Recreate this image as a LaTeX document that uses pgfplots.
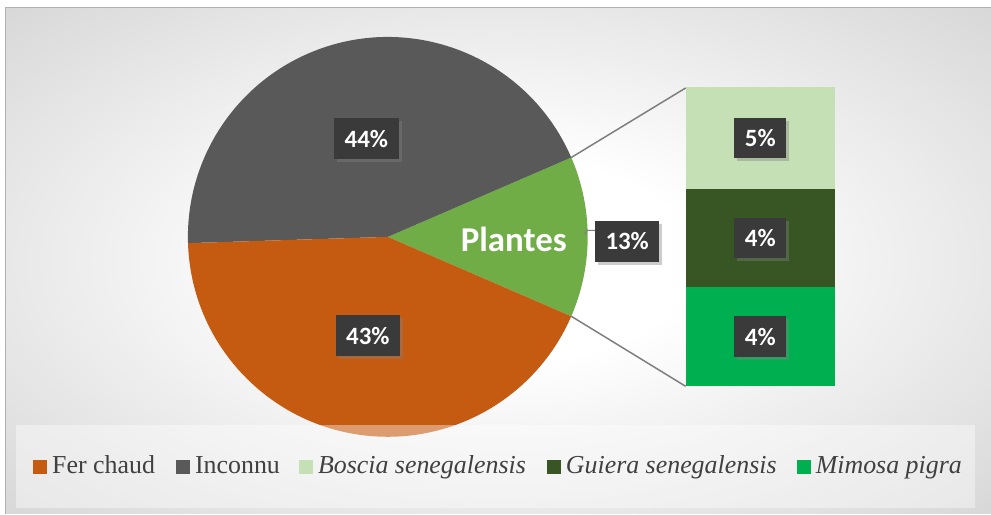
\documentclass[border=0pt]{standalone}
\usepackage{pgfplots}
\pgfplotsset{compat=1.18}
\usetikzlibrary{shadows}
\usepackage{fontspec}
\setmainfont{Liberation Serif}
\newfontfamily\carlito{Carlito}
\definecolor{ferc}{HTML}{C55A11}
\definecolor{inco}{HTML}{595959}
\definecolor{plantes}{HTML}{70AD47}
\definecolor{boscia}{HTML}{C5E0B4}
\definecolor{guiera}{HTML}{375623}
\definecolor{mimosa}{HTML}{00B050}
\definecolor{conn}{HTML}{7F7F7F}
\definecolor{labbg}{HTML}{3A3A3A}
\definecolor{legtext}{HTML}{404040}
\definecolor{bgout}{HTML}{B8B8B8}
\definecolor{bgline}{HTML}{B0B0B0}
\pgfdeclareradialshading{bgshade}{\pgfpoint{0bp}{0bp}}{color(0bp)=(white); color(10bp)=(white); color(56bp)=(bgout); color(100bp)=(bgout)}
\tikzset{
  lab/.style={fill=labbg, text=white, font=\carlito\bfseries\fontsize{25}{25}\selectfont,
    inner xsep=10.5bp, inner ysep=0pt, minimum height=41bp,
    drop shadow={shadow xshift=3bp, shadow yshift=-3bp, opacity=0.4}},
  leg/.style={anchor=base west, inner sep=0pt, text=legtext, font=\fontsize{26}{26}\selectfont}
}
\pgfplotsset{barbox/.style={at={(686bp,127.5bp)}, anchor=south west, scale only axis,
  width=149.5bp, height=299bp, xmin=-0.5, xmax=0.5, ymin=0, ymax=13.3, hide axis, clip=false}}
\begin{document}
\begin{tikzpicture}
% pie values (percent)
\def\pFer{43}
\def\pInc{44}
\def\pPla{13}
\pgfmathsetmacro\aA{\pPla*1.8}
\pgfmathsetmacro\aB{\aA+\pInc*3.6}
\pgfmathsetmacro\aC{\aB+\pFer*3.6}
\begin{axis}[name=main, at={(0,0)}, anchor=south west, scale only axis,
  width=991bp, height=514bp, xmin=0, xmax=991, ymin=0, ymax=514,
  y dir=reverse, hide axis, clip=false]
\addplot[draw=none] coordinates {(0,0) (991,514)};
\fill[white] (axis cs:0,0) rectangle (axis cs:991,514);
\shade[shading=bgshade] (axis cs:6,8) rectangle (axis cs:991,514);
\draw[bgline, line width=1bp] (axis cs:6,514) -- (axis cs:6,8) -- (axis cs:991,8);
% pie
\fill[plantes] (axis cs:388,237) -- ++(-\aA:200bp) arc[start angle=-\aA, end angle=\aA, radius=200bp] -- cycle;
\fill[inco] (axis cs:388,237) -- ++(\aA:200bp) arc[start angle=\aA, end angle=\aB, radius=200bp] -- cycle;
\fill[ferc] (axis cs:388,237) -- ++(\aB:200bp) arc[start angle=\aB, end angle=\aC, radius=200bp] -- cycle;
% connectors
\draw[conn, line width=1.5bp] (axis cs:388,237) ++(\aA:200bp) -- (axis cs:686,88);
\draw[conn, line width=1.5bp] (axis cs:388,237) ++(-\aA:200bp) -- (axis cs:686,386.5);
% labels
\node[lab] at (axis cs:366.5,139) {44\%};
\node[lab] at (axis cs:368,336) {43\%};
\draw[conn, line width=1bp] (axis cs:585,235) -- (axis cs:587,230.5) -- (axis cs:597,230.5);
\node[lab] at (axis cs:627.5,241.5) {13\%};
\node[font=\carlito\bfseries\fontsize{35}{35}\selectfont, text=white] at (axis cs:514,240) {Plantes};
% legend
\fill[white, fill opacity=0.4] (axis cs:16,425) rectangle (axis cs:975,508);
\fill[ferc] (axis cs:33,460) rectangle (axis cs:47,474);
\node[leg] at (axis cs:52,474) {Fer chaud};
\fill[inco] (axis cs:176,460) rectangle (axis cs:190,474);
\node[leg] at (axis cs:195,474) {Inconnu};
\fill[boscia] (axis cs:299,460) rectangle (axis cs:313,474);
\node[leg] at (axis cs:318,474) {\itshape Boscia senegalensis};
\fill[guiera] (axis cs:547,460) rectangle (axis cs:561,474);
\node[leg] at (axis cs:566,474) {\itshape Guiera senegalensis};
\fill[mimosa] (axis cs:797,460) rectangle (axis cs:811,474);
\node[leg] at (axis cs:816,474) {\itshape Mimosa pigra};
\end{axis}
% stacked bar of the plant species
\begin{axis}[barbox, ybar stacked, bar width=149.5bp]
\addplot[fill=mimosa, draw=none] coordinates {(0,4.4)};
\addplot[fill=guiera, draw=none] coordinates {(0,4.4)};
\addplot[fill=boscia, draw=none] coordinates {(0,4.5)};
\end{axis}
% labels of the bar segments
\begin{axis}[barbox]
\addplot[draw=none] coordinates {(0,0)};
\node[lab] at (axis cs:0,2.2) {4\%};
\node[lab] at (axis cs:0,6.6) {4\%};
\node[lab] at (axis cs:0,11.05) {5\%};
\end{axis}
\end{tikzpicture}
\end{document}
